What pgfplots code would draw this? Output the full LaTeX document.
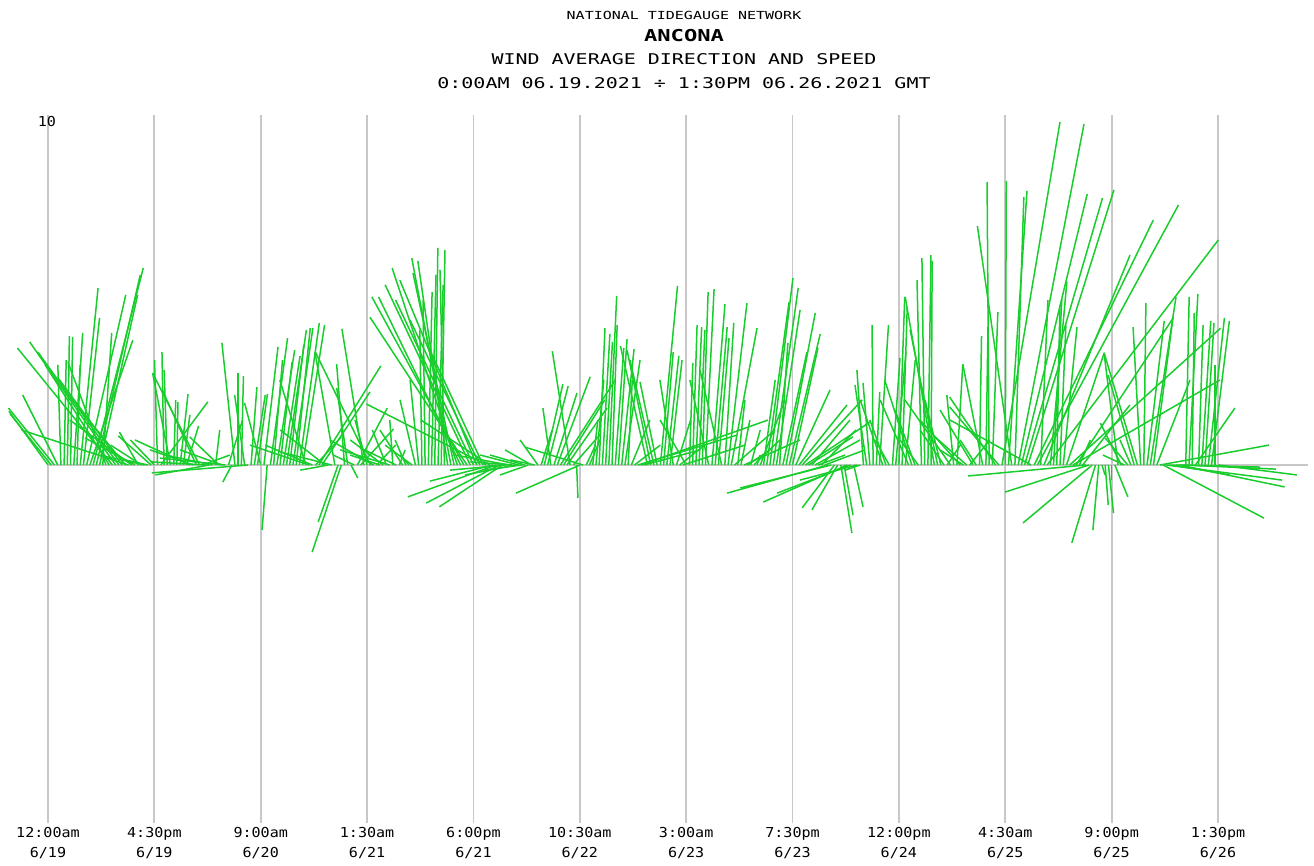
\documentclass[border=0pt]{standalone}
\usepackage{fontspec}
\usepackage{pgfplots}
\usepackage{pgfplotstable}
\pgfplotsset{compat=1.18}
\newfontfamily\titlefont[FakeStretch=1.35]{DejaVu Sans Mono}
\newfontfamily\tickfont[FakeStretch=1.1]{DejaVu Sans Mono}
\definecolor{stick}{RGB}{25,205,45}
\definecolor{gridc}{RGB}{200,200,200}
\pgfplotstableread{
t u v
0 -1.14 1.57
0.5 -1.20 1.49
1 -1.34 1.66
1.5 -1.02 2.04
2 -0.09 2.92
2.5 0.06 3.06
3 0.06 3.76
3.5 0.06 3.73
4 0.26 3.85
4.5 0.09 2.92
5 0.52 5.16
5.5 0.47 4.29
6 1.14 4.96
6.5 1.25 3.64
7 1.46 5.74
7.5 1.28 5.54
8 1.11 4.96
8.5 0.26 3.85
9 -1.11 3.00
9.5 -1.87 2.92
10 -2.77 3.41
10.5 -2.51 3.59
11 -2.36 3.29
11.5 -1.87 2.54
12 -1.66 2.04
12.5 -3.12 1.02
13 -1.81 1.31
13.5 -1.46 0.79
14 -0.55 0.96
14.5 -0.90 0.58
15 -1.31 0.29
15.5 -0.67 0.15
16 -0.96 0.85
16.5 -0.70 0.73
17 -0.09 3.06
17.5 1.37 1.84
18 -0.06 3.29
18.5 -0.09 2.77
19 -0.52 2.68
19.5 0.06 1.90
20 0.03 1.84
20.5 0.23 2.07
21 0.19 1.46
21.5 0.35 1.14
22 -1.60 0.73
22.5 -1.25 0.44
23 -0.99 2.19
23.5 -1.37 2.68
24 0.79 0.29
24.5 -1.57 0.09
25 -1.57 -0.29
25.5 -1.37 0.29
26 0.12 1.02
26.5 -0.85 0.82
27 -1.22 0.44
27.5 -1.90 0.20
28 0.41 1.31
28.5 -0.26 -0.50
29 -0.38 3.56
29.5 0.00 2.68
30 0.06 2.59
30.5 -0.29 2.04
31 -2.80 -0.23
31.5 0.17 2.27
32 0.32 2.04
32.5 0.29 2.07
33 -0.47 1.81
33.5 0.41 3.44
34 -0.15 -1.90
34.5 0.50 3.70
35 0.26 3.06
35.5 0.52 3.35
36 0.35 3.00
36.5 0.49 3.18
37 0.58 3.94
37.5 0.41 3.50
38 0.58 3.99
38.5 0.41 3.99
39 0.58 4.14
39.5 0.64 4.08
40 -0.76 2.48
40.5 -1.72 0.58
41 -1.37 0.58
41.5 0.73 0.79
42 1.81 2.89
42.5 1.40 2.13
43 -1.31 1.02
43.5 -0.82 -0.15
44 -1.50 0.38
44.5 -0.58 3.29
45 -0.58 -1.66
45.5 -0.85 -2.54
46 -0.23 2.94
46.5 -0.32 2.24
47 0.20 -0.38
47.5 -0.61 0.29
48 0.87 1.66
48.5 0.96 1.05
49 -0.64 3.97
49.5 -0.35 1.31
50 -1.60 3.29
50.5 -1.27 0.73
51 0.55 0.58
51.5 -0.87 0.29
52 -0.96 0.73
52.5 -0.41 1.02
53 -1.44 0.44
53.5 -0.09 1.31
54 -1.05 0.50
54.5 0.17 0.44
55 -0.66 1.02
55.5 -0.31 0.73
56 -0.26 0.29
56.5 -0.79 0.58
57 -0.45 1.90
57.5 -0.25 2.48
58 -0.06 3.94
58.5 -0.06 4.81
59 0.11 5.04
59.5 0.13 5.54
60 0.09 6.33
60.5 0.15 5.25
61 0.11 6.27
61.5 -0.13 5.69
62 -0.87 5.95
62.5 -1.14 6.03
63 -1.20 5.60
63.5 -1.90 5.74
64 -2.39 4.90
64.5 -2.68 4.90
65 -2.83 4.31
65.5 -2.48 5.25
66 -2.27 4.81
66.5 -2.24 5.39
67 -2.04 4.23
67.5 -1.55 3.35
68 -3.50 1.78
68.5 -2.00 1.31
69 -1.83 -0.47
69.5 -2.57 -0.93
70 -2.13 -1.11
70.5 -1.84 -1.22
71 -1.62 -0.15
71.5 -1.57 0.29
72 -1.22 0.09
72.5 -1.46 -0.29
73 -1.12 0.29
73.5 -1.12 -0.15
74 -1.02 0.29
74.5 -0.82 -0.29
75 -0.77 0.44
75.5 -0.71 0.15
76 -0.52 0.73
76.5 0.32 1.02
77 0.54 2.36
77.5 0.60 2.30
78 -0.23 1.66
78.5 0.67 2.10
79 0.96 2.57
79.5 1.60 2.48
80 1.20 1.90
80.5 1.17 1.66
81 -0.52 3.32
81.5 0.79 0.90
82 0.04 -0.96
82.5 -1.86 -0.82
83 -1.69 0.52
83.5 0.27 0.58
84 0.31 0.73
84.5 0.15 1.31
85 0.23 2.48
85.5 0.17 3.99
86 0.22 3.82
86.5 0.20 3.59
87 0.23 4.93
87.5 0.15 4.08
88 0.25 3.41
88.5 0.25 3.67
89 0.36 3.38
89.5 0.44 3.06
90 0.12 2.48
90.5 0.54 1.31
91 0.75 0.58
91.5 2.89 0.87
92 3.70 1.31
92.5 1.63 0.44
93 -0.79 3.47
93.5 -0.69 3.35
94 -0.70 3.06
94.5 -0.50 2.42
95 0.50 5.22
95.5 0.28 3.29
96 0.35 3.18
96.5 0.35 3.06
97 -0.39 2.48
97.5 0.41 1.31
98 0.73 0.58
98.5 1.81 0.58
99 -0.76 1.31
99.5 0.10 2.97
100 0.13 4.08
100.5 0.17 4.02
101 0.17 3.94
101.5 0.17 5.04
102 0.25 5.13
102.5 -0.55 2.48
103 0.38 4.69
103.5 0.35 4.02
104 0.31 3.70
104.5 -0.63 2.77
105 0.26 4.14
105.5 0.55 4.72
106 0.75 3.99
106.5 1.18 1.02
107 0.21 1.90
107.5 0.26 1.31
108 1.63 0.73
108.5 0.66 0.44
109 0.28 1.02
109.5 0.76 0.73
110 0.09 0.29
110.5 0.72 1.90
111 0.34 2.48
111.5 0.65 4.75
112 0.67 5.45
112.5 0.73 5.16
113 0.69 4.52
113.5 0.24 3.56
114 0.70 3.29
114.5 0.85 4.43
115 0.90 3.82
115.5 0.74 3.41
116 1.00 2.19
116.5 1.40 1.75
117 1.75 1.90
117.5 1.88 1.25
118 1.29 0.82
118.5 1.11 1.31
119 1.31 0.73
119.5 0.78 0.29
120 1.00 1.02
120.5 1.17 0.44
121 -2.94 -0.82
121.5 -2.65 -0.67
122 -0.94 -1.25
122.5 -0.75 -1.31
123 0.32 -1.98
123.5 0.26 -1.46
124 -2.45 -1.08
124.5 -2.14 -0.82
125 0.27 -1.22
125.5 -1.66 -0.44
126 -0.44 -0.15
126.5 -0.19 2.77
127 -0.34 2.33
127.5 -0.20 2.39
128 -0.03 4.08
128.5 0.10 2.13
129 0.26 4.08
129.5 -0.66 1.90
130 -0.47 1.31
130.5 -0.41 0.73
131 0.22 3.12
131.5 0.30 3.29
132 0.17 4.90
132.5 0.15 4.61
133 0.29 3.06
133.5 -0.83 1.90
134 -0.79 2.48
134.5 -0.58 1.60
135 -0.53 0.73
135.5 -0.13 5.39
136 -0.08 6.03
136.5 0.09 6.12
137 0.03 5.95
137.5 -0.85 4.90
138 -0.80 3.94
138.5 -0.46 1.90
139 -0.70 1.02
139.5 0.38 0.58
140 -1.33 1.90
140.5 -0.20 2.04
141 0.17 2.92
141.5 -1.17 1.31
142 -0.68 0.44
142.5 -0.92 0.82
143 0.58 0.73
143.5 -0.96 1.60
144 -0.47 0.73
144.5 0.06 3.76
145 -0.58 2.94
145.5 0.06 4.02
146 -0.06 8.25
146.5 0.16 4.46
147 -1.34 1.98
147.5 -1.43 1.69
148 1.69 10.00
148.5 0.03 8.28
149 0.54 7.99
149.5 -1.00 6.97
150 0.26 7.81
150.5 1.92 9.94
151 1.92 7.90
151.5 2.27 7.78
152 2.51 8.02
152.5 -2.36 1.31
153 3.47 7.14
153.5 4.11 7.58
154 0.21 4.81
154.5 2.51 6.12
155 4.99 6.56
155.5 0.48 5.34
156 0.24 4.84
156.5 0.09 4.66
157 0.17 4.08
157.5 0.40 4.02
158 1.10 3.27
158.5 4.40 3.99
159 4.29 2.48
159.5 2.83 4.29
160 0.32 0.73
160.5 1.38 1.75
161 -3.43 -0.32
161.5 -2.45 -0.79
162 -2.02 -1.69
162.5 -0.69 -2.27
163 -0.17 -1.90
163.5 0.09 -0.29
164 0.09 -1.17
164.5 0.15 -1.40
165 0.00 -0.44
165.5 0.38 -0.93
166 -0.41 3.27
166.5 -0.61 1.22
167 -0.63 0.29
167.5 -0.66 0.79
168 -0.32 0.73
168.5 -0.76 2.62
169 -0.97 3.27
169.5 -0.22 4.02
170 0.06 4.72
170.5 0.50 4.20
171 0.75 4.90
171.5 0.57 4.31
172 0.97 2.48
172.5 3.18 0.58
173 2.94 -1.55
173.5 3.37 -0.44
174 1.04 -0.15
174.5 1.66 -0.29
175 2.45 -0.06
175.5 3.07 -0.64
176 2.72 -0.12
176.5 0.10 4.90
177 0.26 4.99
177.5 0.06 4.43
178 1.15 1.66
178.5 0.13 4.08
179 0.26 4.20
179.5 0.26 4.14
180 0.47 4.29
180.5 0.52 4.20
181 0.00 2.92
181.5 2.30 -0.29
}\wind
\begin{document}
\begin{tikzpicture}
\begin{axis}[
  width=1314pt, height=866pt, scale only axis,
  xmin=-7.447, xmax=196.4, ymin=-11.691, ymax=13.557,
  hide axis, clip=false]
\pgfplotsinvokeforeach{0,16.5,33,49.5,66,82.5,99,115.5,132,148.5,165,181.5}{
  \draw[gridc, line width=1.8pt] (axis cs:#1,10.2) -- (axis cs:#1,-10.44);
}
\draw[gridc, line width=1.4pt] (axis cs:0,0) -- (axis cs:195.5,0);
\addplot[stick, line width=1.5pt, no markers,
  quiver={u={\thisrow{u}*5.321}, v={\thisrow{v}}}]
  table[x=t, y expr=0] {\wind};
\end{axis}
\path (0,0) rectangle (1314pt,866pt);
\node[inner sep=0pt, font=\titlefont\fontsize{11.1}{13}\selectfont] at (684pt,851pt) {NATIONAL TIDEGAUGE NETWORK};
\node[inner sep=0pt, font=\titlefont\bfseries\fontsize{16.4}{18}\selectfont] at (684pt,830pt) {ANCONA};
\node[inner sep=0pt, font=\titlefont\fontsize{14.8}{17}\selectfont] at (684pt,807pt) {WIND AVERAGE DIRECTION AND SPEED};
\node[inner sep=0pt, font=\titlefont\fontsize{14.8}{17}\selectfont] at (684pt,783pt) {0:00AM 06.19.2021 ÷ 1:30PM 06.26.2021 GMT};
\node[inner sep=0pt, font=\tickfont\fontsize{13.7}{20}\selectfont] at (47pt,744pt) {10};
\foreach \k/\a/\b in {0/12:00am/6\slash 19, 1/4:30pm/6\slash 19, 2/9:00am/6\slash 20, 3/1:30am/6\slash 21, 4/6:00pm/6\slash 21, 5/10:30am/6\slash 22, 6/3:00am/6\slash 23, 7/7:30pm/6\slash 23, 8/12:00pm/6\slash 24, 9/4:30am/6\slash 25, 10/9:00pm/6\slash 25, 11/1:30pm/6\slash 26}{
  \node[inner sep=0pt, align=center, font=\tickfont\fontsize{13.7}{20}\selectfont] at ({48pt+106.36pt*\k},23pt) {\a\\\b};
}
\end{tikzpicture}
\end{document}
